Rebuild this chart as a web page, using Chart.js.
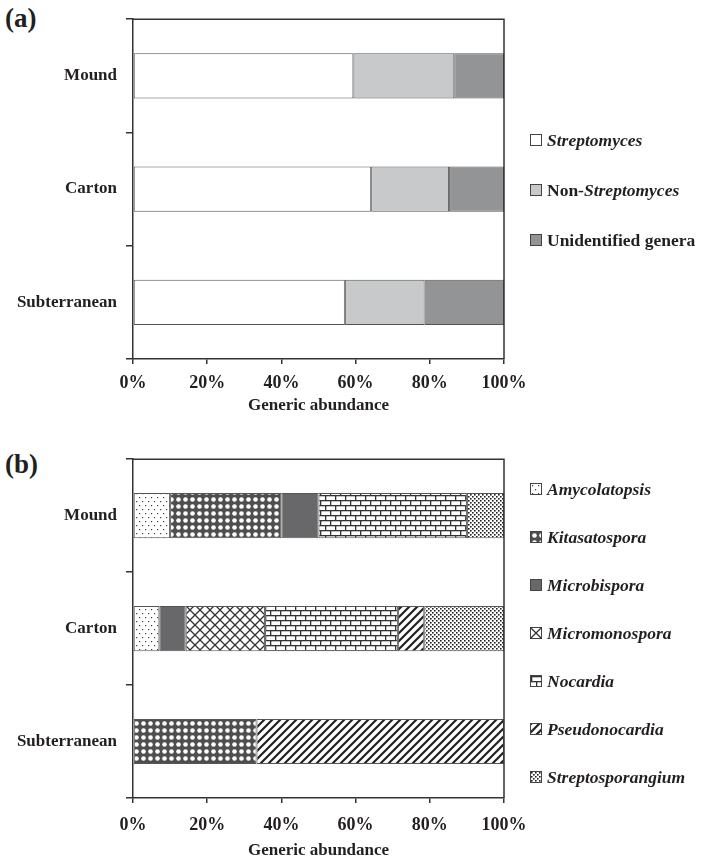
<!DOCTYPE html>
<html>
<head>
<meta charset="utf-8">
<script src="https://cdn.jsdelivr.net/npm/chart.js@4/dist/chart.umd.min.js"></script>
<style>
body{margin:0;background:#fff;font-family:"Liberation Serif",serif;color:#231f20}
#wrap{position:relative;width:707px;height:865px;overflow:hidden}
#wrap canvas{position:absolute;left:0}
.tag{position:absolute;left:5px;font-weight:bold;font-size:27px;line-height:27px}
.leg{position:absolute;left:530px;font-weight:bold;font-size:17.5px;line-height:20px;white-space:nowrap;display:flex;align-items:center}
.sw{display:inline-block;width:12px;height:12px;border:1px solid #444;margin-right:5px;box-sizing:border-box}
</style>
</head>
<body>
<div id="wrap">
  <div class="tag" style="top:5px">(a)</div>
  <div class="tag" style="top:451px">(b)</div>
  <canvas id="chartA" width="707" height="420" style="top:0"></canvas>
  <canvas id="chartB" width="707" height="425" style="top:440px"></canvas>
</div>
<script>
// sites (same for both panels)
var sites = ['Mound', 'Carton', 'Subterranean'];
var xTicks = [0, 20, 40, 60, 80, 100];

// panel (a) - % of isolates
var groupNames = ['Streptomyces', 'Non-Streptomyces', 'Unidentified genera'];
var streptomyces = [59.4, 64.2, 57.1];
var nonStreptomyces = [27.2, 21.0, 21.5];
var unidentified = [13.4, 14.8, 21.4];

// panel (b) - non-Streptomyces genera
var genusNames = ['Amycolatopsis', 'Kitasatospora', 'Microbispora', 'Micromonospora', 'Nocardia', 'Pseudonocardia', 'Streptosporangium'];
var amycolatopsis = [10, 7.1, 0];
var kitasatospora = [30, 0, 33.3];
var microbispora = [10, 7.1, 0];
var micromonospora = [0, 21.4, 0];
var nocardia = [40, 35.8, 0];
var pseudonocardia = [0, 7.1, 66.7];
var streptosporangium = [10, 21.5, 0];

var FONT = '"Liberation Serif", "Times New Roman", serif';
var INK = '#231f20';

function tile(w, h, draw) {
  var c = document.createElement('canvas');
  c.width = w; c.height = h;
  var g = c.getContext('2d');
  g.fillStyle = '#fff'; g.fillRect(0, 0, w, h);
  draw(g, w, h);
  return c;
}
function dot(g, x, y, r) { g.beginPath(); g.arc(x, y, r, 0, Math.PI * 2); g.fill(); }

var tiles = {
  dots: tile(6, 8, function (g) {
    g.fillStyle = '#444';
    g.fillRect(1, 1, 1.2, 1.2); g.fillRect(4, 5, 1.2, 1.2);
  }),
  diamonds: tile(7, 7, function (g) {
    g.fillStyle = '#4e4e4e'; g.fillRect(0, 0, 7, 7);
    g.fillStyle = '#fff';
    dot(g, 3.5, 3.5, 2.3);
  }),
  solid: tile(4, 4, function (g) { g.fillStyle = '#68686a'; g.fillRect(0, 0, 4, 4); }),
  lattice: tile(10, 10, function (g) {
    g.strokeStyle = '#333'; g.lineWidth = 1.3;
    g.beginPath();
    g.moveTo(0, 0); g.lineTo(10, 10);
    g.moveTo(10, 0); g.lineTo(0, 10);
    g.stroke();
  }),
  brick: tile(10, 10, function (g) {
    g.fillStyle = '#333';
    g.fillRect(0, 0, 10, 1.3); g.fillRect(0, 5, 10, 1.3);
    g.fillRect(0, 0, 1.3, 5); g.fillRect(5, 5, 1.3, 5);
  }),
  stripes: tile(8, 8, function (g) {
    g.strokeStyle = '#222'; g.lineWidth = 2.2;
    g.beginPath();
    g.moveTo(0, 8); g.lineTo(8, 0);
    g.moveTo(-2, 2); g.lineTo(2, -2);
    g.moveTo(6, 10); g.lineTo(10, 6);
    g.stroke();
  }),
  speckle: tile(4, 4, function (g) {
    g.fillStyle = '#222';
    g.fillRect(0, 0, 1.6, 1.6); g.fillRect(2, 2, 1.6, 1.6);
  })
};

function pattern(name) {
  return document.createElement('canvas').getContext('2d').createPattern(tiles[name], 'repeat');
}

function ds(label, data, fill) {
  return {
    label: label, data: data, backgroundColor: fill,
    borderColor: '#555',
    borderWidth: function (c) { return c.raw ? 1 : 0; },
    borderSkipped: false,
    barPercentage: 0.4, categoryPercentage: 1
  };
}

var frame = {
  id: 'frame',
  afterDatasetsDraw: function (chart) {
    var a = chart.chartArea, g = chart.ctx;
    g.save();
    g.strokeStyle = '#333'; g.lineWidth = 1.5;
    g.beginPath();
    g.moveTo(a.left, a.top); g.lineTo(a.right, a.top); g.lineTo(a.right, a.bottom);
    g.stroke();
    g.restore();
  }
};

function opts(axisHeight, tickPad) {
  return {
    indexAxis: 'y',
    responsive: false,
    animation: false,
    layout: { padding: { left: 0, right: 203, top: 14, bottom: 0 } },
    plugins: { legend: { display: false }, tooltip: { enabled: false } },
    scales: {
      x: {
        stacked: true, min: 0, max: 100,
        afterBuildTicks: function (s) { s.ticks = xTicks.map(function (v) { return { value: v }; }); },
        afterFit: function (s) { s.height = axisHeight; },
        ticks: { autoSkip: false, maxRotation: 0, padding: tickPad, color: INK,
          font: { family: FONT, size: 18, weight: 'bold' },
          callback: function (v) { return v + '%'; } },
        grid: { drawOnChartArea: false, tickLength: 5, color: '#333', lineWidth: 1.5 },
        border: { color: '#333', width: 1.5 },
        title: { display: true, text: 'Generic abundance', color: INK, padding: { top: 4, bottom: 4 },
          font: { family: FONT, size: 17, weight: 'bold' } }
      },
      y: {
        stacked: true,
        afterFit: function (s) { s.width = 133; },
        ticks: { padding: 9, color: INK, font: { family: FONT, size: 17, weight: 'bold' } },
        grid: { drawOnChartArea: false, offset: true, tickLength: 7, color: '#333', lineWidth: 1.5 },
        border: { color: '#333', width: 1.5 }
      }
    }
  };
}

var fillsA = ['#ffffff', '#c8c9cb', '#939496'];
new Chart(document.getElementById('chartA'), {
  type: 'bar',
  data: {
    labels: sites,
    datasets: [
      ds(groupNames[0], streptomyces, fillsA[0]),
      ds(groupNames[1], nonStreptomyces, fillsA[1]),
      ds(groupNames[2], unidentified, fillsA[2])
    ]
  },
  options: opts(61, 9),
  plugins: [frame]
});

var tileNames = ['dots', 'diamonds', 'solid', 'lattice', 'brick', 'stripes', 'speckle'];
var genusData = [amycolatopsis, kitasatospora, microbispora, micromonospora, nocardia, pseudonocardia, streptosporangium];
new Chart(document.getElementById('chartB'), {
  type: 'bar',
  data: {
    labels: sites,
    datasets: genusNames.map(function (n, i) { return ds(n, genusData[i], pattern(tileNames[i])); })
  },
  options: opts(67, 12),
  plugins: [frame]
});

// legends as html (mixed italic / upright text)
var wrap = document.getElementById('wrap');
function legendItem(top, html, swatchBg) {
  var d = document.createElement('div');
  d.className = 'leg';
  d.style.top = (top - 10) + 'px';
  d.innerHTML = '<span class="sw" style="background:' + swatchBg + '"></span><span>' + html + '</span>';
  wrap.appendChild(d);
}
groupNames.forEach(function (n, i) {
  var html = n.replace('Streptomyces', '<i>Streptomyces</i>');
  legendItem(140 + i * 50, html, fillsA[i]);
});
genusNames.forEach(function (n, i) {
  legendItem(489 + i * 48, '<i>' + n + '</i>', 'url(' + tiles[tileNames[i]].toDataURL() + ')');
});
</script>
</body>
</html>
